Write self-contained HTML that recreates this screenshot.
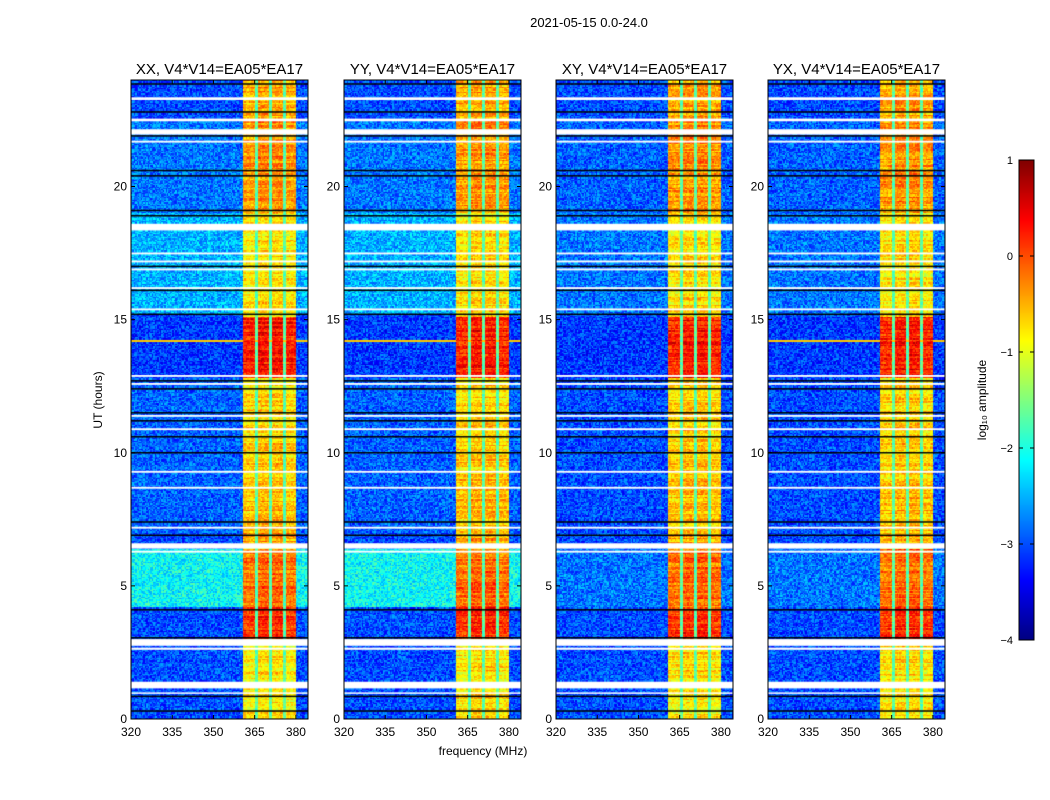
<!DOCTYPE html>
<html><head><meta charset="utf-8"><style>
body{margin:0;background:#fff;font-family:"Liberation Sans",sans-serif}
#wrap{position:relative;width:1050px;height:800px;overflow:hidden}
canvas{position:absolute}
svg{position:absolute;left:0;top:0}
</style></head><body>
<div id="wrap">
<canvas id="cv" width="1050" height="800" style="left:0;top:0"></canvas>
<svg id="sv" width="1050" height="800"></svg>
</div>
<script>
// ---- data ----
const panelTitles = ["XX, V4*V14=EA05*EA17","YY, V4*V14=EA05*EA17","XY, V4*V14=EA05*EA17","YX, V4*V14=EA05*EA17"];
const xTicks = [320,335,350,365,380];
const yTicks = [0,5,10,15,20];
const cbTicks = [1,0,-1,-2,-3,-4];
// time segments: [startHour, endHour, backgroundLog, bandLog]
const segStart = [0,   3.0, 4.2, 6.5, 7.0, 9.0, 12.0, 12.8, 15.2, 19.0, 22.5];
const segEnd   = [3.0, 4.2, 6.4, 7.0, 9.0, 12.0,12.8, 15.1, 19.0, 22.5, 24.0];
const segBg    = [-3.0,-3.0,-2.1,-3.0,-2.9,-2.9,-2.9, -3.1, -2.5, -2.8, -3.0];
const segBgCross=[-3.0,-3.0,-2.8,-3.0,-3.0,-3.0,-3.0, -3.1, -2.8, -2.9, -3.0];
const segBand  = [-0.8, 0.1,-0.2,-0.5,-0.6,-0.7,-0.8,  0.2, -0.8,-0.4, -0.5];
// band columns (MHz)
const colLo = [361.0,366.2,371.3,376.5];
const colHi = [365.3,370.3,375.5,380.0];
const gapLog = -1.7;
// flagged (white) intervals in hours
const flagLo = [23.25,22.45,21.95,21.65,18.35,17.45,17.15,16.85,16.15,15.35,12.85,12.55,11.35,10.85,9.25,8.65,7.15,6.4,6.25,2.75,2.6,1.15,0.95];
const flagHi = [23.35,22.55,22.15,21.72,18.6,17.52,17.22,16.92,16.22,15.42,12.92,12.62,11.42,10.92,9.32,8.72,7.22,6.6,6.32,3.0,2.68,1.4,1.0];
// black lines (hours)
const blackH = [23.85,22.8,21.9,20.6,20.4,19.1,18.9,17.0,16.1,15.2,12.7,12.4,11.5,11.2,10.6,10.0,7.4,6.9,4.1,3.05,0.85,0.3];
// strong RFI line
const rfiH = 14.2, rfiLog = -0.6;

// ---- geometry ----
const pL=[131,344,556,768], pW=177, pT=80, pH=639;
const fMin=320, fMax=384.4, tMin=0, tMax=24;
const xs=(i,f)=>pL[i]+(f-fMin)/(fMax-fMin)*pW;
const ys=t=>pT+pH-(t-tMin)/(tMax-tMin)*pH;
function jet(v){let t=(v+4)/5;t=Math.max(0,Math.min(1,t));
 const c=x=>Math.round(255*Math.max(0,Math.min(1,x)));
 return [c(1.5-Math.abs(4*t-3)),c(1.5-Math.abs(4*t-2)),c(1.5-Math.abs(4*t-1))];}
function hash(a,b,c){let h=(a*374761393+b*668265263+c*2147483647)|0;h=(h^(h>>>13))*1274126177|0;return ((h^(h>>>16))>>>0)/4294967296;}

const cv=document.getElementById('cv'),ctx=cv.getContext('2d');
const NC=128, NR=480;
for(let p=0;p<4;p++){
 const off=document.createElement('canvas');off.width=NC;off.height=NR;
 const oc=off.getContext('2d'),img=oc.createImageData(NC,NR);
 for(let r=0;r<NR;r++){
  const t=tMax-(r+0.5)/NR*(tMax-tMin);
  let s=0;for(let k=0;k<segStart.length;k++){if(t>=segStart[k]&&t<segEnd[k]){s=k;break;}}
  const bg=(p<2?segBg[s]:segBgCross[s]), band=segBand[s];
  const rowJ=(hash(r,p,11)-0.5)*0.5;
  for(let c=0;c<NC;c++){
   const f=fMin+(c+0.5)/NC*(fMax-fMin);
   let v=bg+(hash(c,r,p)-0.5)*0.9;
   let inCol=-1;for(let k=0;k<colLo.length;k++){if(f>=colLo[k]&&f<colHi[k])inCol=k;}
   if(inCol>=0)v=band+rowJ+(hash(c,r,p+7)-0.5)*0.6+(inCol==1||inCol==2?0.1:0);
   else if(f>colLo[0]&&f<colHi[colHi.length-1])v=gapLog+(hash(c,r,p+3)-0.5)*0.5;
   if(Math.abs(t-rfiH)<0.06&&(p!=2))v=Math.max(v,rfiLog);
   const col=jet(v),i=(r*NC+c)*4;
   img.data[i]=col[0];img.data[i+1]=col[1];img.data[i+2]=col[2];img.data[i+3]=255;
  }
 }
 oc.putImageData(img,0,0);
 ctx.imageSmoothingEnabled=false;
 ctx.drawImage(off,pL[p],pT,pW,pH);
 ctx.fillStyle='#fff';
 for(let k=0;k<flagLo.length;k++){const y1=ys(flagHi[k]),y2=ys(flagLo[k]);ctx.fillRect(pL[p],y1,pW,Math.max(1.5,y2-y1));}
 ctx.fillStyle='#000';
 for(let k=0;k<blackH.length;k++){ctx.fillRect(pL[p],ys(blackH[k])-0.75,pW,1.5);}
}
// colorbar
for(let y=160;y<640;y++){const v=1-(y-160)/480*5;const c=jet(v);ctx.fillStyle=`rgb(${c})`;ctx.fillRect(1019,y,15,1);}

// ---- svg overlay ----
const sv=document.getElementById('sv'),NS='http://www.w3.org/2000/svg';
function el(tag,attrs,txt){const e=document.createElementNS(NS,tag);for(const k in attrs)e.setAttribute(k,attrs[k]);if(txt!==undefined)e.textContent=txt;sv.appendChild(e);return e;}
let e=el('text',{x:589,y:27,'text-anchor':'middle','font-size':13,'font-family':'Liberation Sans, sans-serif'},'2021-05-15 0.0-24.0');

for(let p=0;p<4;p++){
 e=el('rect',{x:pL[p],y:pT,width:pW,height:pH,fill:'none',stroke:'#000','stroke-width':1});
 
 e=el('text',{x:pL[p]+pW/2,y:74,'text-anchor':'middle','font-size':15},panelTitles[p]);
 
 for(const f of xTicks){const x=xs(p,f);
  el('line',{x1:x,x2:x,y1:pT+pH,y2:pT+pH-4,stroke:'#000'});el('line',{x1:x,x2:x,y1:pT,y2:pT+4,stroke:'#000'});
  e=el('text',{x:x,y:736,'text-anchor':'middle','font-size':12},String(f));
  }
 for(const t of yTicks){const y=ys(t);
  el('line',{x1:pL[p],x2:pL[p]+4,y1:y,y2:y,stroke:'#000'});el('line',{x1:pL[p]+pW,x2:pL[p]+pW-4,y1:y,y2:y,stroke:'#000'});
  e=el('text',{x:pL[p]-4,y:y+4,'text-anchor':'end','font-size':12},String(t));
  }
}
e=el('text',{x:483,y:755,'text-anchor':'middle','font-size':12},'frequency (MHz)');

e=el('text',{x:102,y:400,'text-anchor':'middle','font-size':12,transform:'rotate(-90 102 400)'},'UT (hours)');

e=el('rect',{x:1019,y:160,width:15,height:480,fill:'none',stroke:'#000'});

for(const v of cbTicks){const y=160+(1-v)/5*480;
 el('line',{x1:1019,x2:1023,y1:y,y2:y,stroke:'#000'});el('line',{x1:1034,x2:1030,y1:y,y2:y,stroke:'#000'});
 e=el('text',{x:1013,y:y+4,'text-anchor':'end','font-size':11},v<0?'\u2212'+(-v):String(v));
 }
e=el('text',{x:986,y:400,'text-anchor':'middle','font-size':12,transform:'rotate(-90 986 400)'},'log\u2081\u2080 amplitude');

</script>
</body></html>
